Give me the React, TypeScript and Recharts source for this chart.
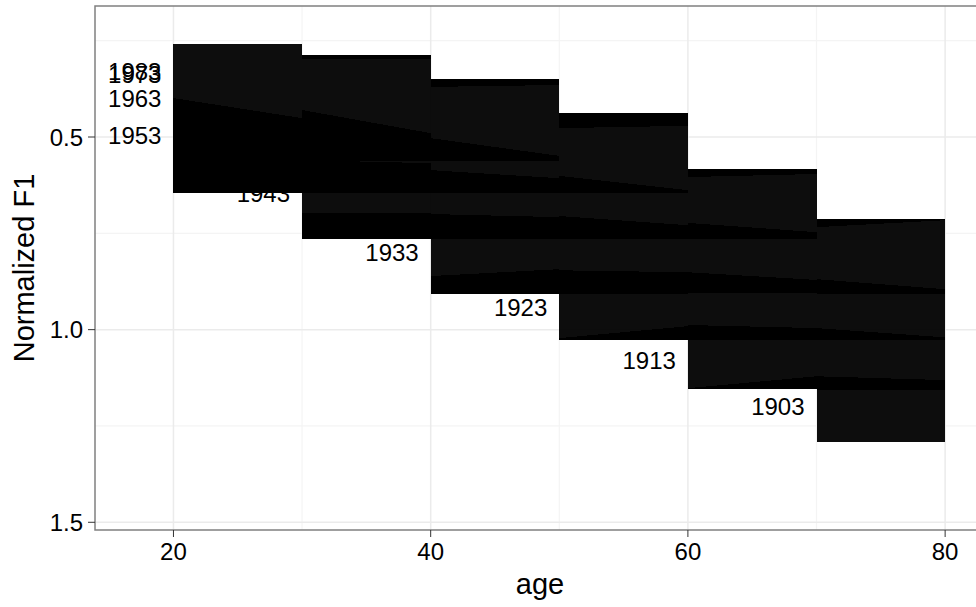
import React from 'react';
import {
  ComposedChart, Area, Scatter, XAxis, YAxis, CartesianGrid, ReferenceArea,
} from 'recharts';

const FONT = '"Liberation Sans", Arial, Helvetica, sans-serif';

// decade bins on the age axis
const decades = [20, 30, 40, 50, 60, 70];

// cohort label positions (birth year, first age, F1 at that age)
const labelYears = [1983, 1973, 1963, 1953, 1943, 1933, 1923, 1913, 1903];
const labelAges = [20, 20, 20, 20, 30, 40, 50, 60, 70];
const labelF1 = [0.330, 0.338, 0.399, 0.497, 0.647, 0.801, 0.943, 1.079, 1.199];

// ribbons per cohort: [decade start, upper@start, upper@end, lower@start, lower@end]
const band1983 = [[30, 0.287, 0.287, 0.297, 0.297]];
const band1973 = [[30, 0.287, 0.287, 0.562, 0.562], [40, 0.349, 0.349, 0.370, 0.365]];
const band1963 = [
  [20, 0.258, 0.258, 0.646, 0.646], [30, 0.430, 0.490, 0.646, 0.646],
  [40, 0.349, 0.349, 0.562, 0.562], [50, 0.438, 0.438, 0.477, 0.471],
];
const band1953 = [
  [20, 0.399, 0.451, 0.646, 0.646], [30, 0.560, 0.568, 0.646, 0.646],
  [40, 0.503, 0.549, 0.646, 0.646], [50, 0.438, 0.438, 0.646, 0.646],
  [60, 0.583, 0.583, 0.604, 0.596],
];
const band1943 = [
  [30, 0.644, 0.644, 0.765, 0.765], [40, 0.586, 0.607, 0.765, 0.765],
  [50, 0.601, 0.638, 0.765, 0.765], [60, 0.583, 0.583, 0.765, 0.765],
  [70, 0.713, 0.713, 0.734, 0.716],
];
const band1933 = [
  [30, 0.697, 0.697, 0.765, 0.765], [40, 0.700, 0.708, 0.908, 0.908],
  [50, 0.705, 0.729, 0.908, 0.908], [60, 0.723, 0.747, 0.905, 0.905],
  [70, 0.713, 0.713, 0.908, 0.908],
];
const band1923 = [
  [40, 0.861, 0.843, 0.908, 0.908], [50, 0.846, 0.851, 1.027, 1.027],
  [60, 0.851, 0.871, 1.027, 1.027], [70, 0.869, 0.895, 1.027, 1.027],
];
const band1913 = [
  [50, 1.022, 0.991, 1.027, 1.027], [60, 0.988, 0.996, 1.155, 1.155],
  [70, 0.996, 1.020, 1.157, 1.157],
];
const band1903 = [[60, 1.152, 1.121, 1.155, 1.155], [70, 1.121, 1.131, 1.292, 1.292]];

const bands: Record<string, number[][]> = {
  c1983: band1983, c1973: band1973, c1963: band1963, c1953: band1953,
  c1943: band1943, c1933: band1933, c1923: band1923, c1913: band1913, c1903: band1903,
};

// one row at the start and one at the end of each decade, so steps stay sharp
const rows: any[] = [];
decades.forEach((d) => {
  const start: any = { age: d };
  const end: any = { age: d + 10 };
  Object.keys(bands).forEach((k) => {
    const seg = bands[k].find((s) => s[0] === d);
    start[k] = seg ? [seg[3], seg[1]] : null;
    end[k] = seg ? [seg[4], seg[2]] : null;
  });
  rows.push(start, end);
});

const labelData = labelYears.map((y, i) => ({ age: labelAges[i], f1: labelF1[i], year: y }));

const CohortLabel = (p: any) => (
  <text x={p.cx - 12} y={p.cy} textAnchor="end" dominantBaseline="central"
    fontFamily={FONT} fontSize={24} fill="#000">
    {p.payload.year}
  </text>
);

const YTitle = (p: any) => {
  const vb = p.viewBox || { x: 0, y: 6, width: 95, height: 524 };
  const cx = vb.x + 24;
  const cy = vb.y + vb.height / 2;
  return (
    <text x={cx} y={cy} transform={`rotate(-90 ${cx} ${cy})`} textAnchor="middle"
      dominantBaseline="central" fontFamily={FONT} fontSize={29} fill="#000">
      Normalized F1
    </text>
  );
};

const XTitle = (p: any) => {
  const vb = p.viewBox || { x: 95, y: 530, width: 890, height: 77 };
  return (
    <text x={vb.x + vb.width / 2} y={vb.y + 64} textAnchor="middle"
      fontFamily={FONT} fontSize={29} fill="#000">
      age
    </text>
  );
};

const tickStyle = { fontFamily: FONT, fontSize: 24, fill: '#000' };

export default function App() {
  return (
    <div style={{ position: 'absolute', left: 0, top: 0, width: 976, height: 607, overflow: 'hidden', background: '#fff' }}>
      <style>{'.recharts-area-area { shape-rendering: crispEdges; }'}</style>
      <ComposedChart width={1000} height={607} data={rows}
        margin={{ top: 6, right: 15, bottom: 0, left: 0 }}>
        <CartesianGrid stroke="#f4f4f4" strokeWidth={1.2}
          horizontalValues={[0.25, 0.75, 1.25]} verticalValues={[30, 50, 70]} />
        <CartesianGrid stroke="#ebebeb" strokeWidth={1.5}
          horizontalValues={[0.5, 1, 1.5]} verticalValues={[20, 40, 60, 80]} />
        <XAxis dataKey="age" type="number" domain={[13.9, 83.1]} allowDataOverflow
          ticks={[20, 40, 60, 80]} height={77} axisLine={false}
          tickLine={{ stroke: '#333' }} tickSize={7} tickMargin={6} tick={tickStyle}
          label={<XTitle />} />
        <YAxis type="number" reversed domain={[0.16, 1.52]} allowDataOverflow
          ticks={[0.5, 1, 1.5]} width={95} axisLine={false}
          tickFormatter={(v: number) => v.toFixed(1)}
          tickLine={{ stroke: '#333' }} tickSize={7} tickMargin={5} tick={tickStyle}
          label={<YTitle />} />
        <Scatter data={labelData} dataKey="f1" shape={<CohortLabel />} isAnimationActive={false} />
        {Object.keys(bands).map((k) => (
          <Area key={k} dataKey={k} type="linear" stroke="none" fill="#000"
            fillOpacity={0.95} dot={false} activeDot={false} isAnimationActive={false} />
        ))}
        <ReferenceArea x1={13.9} x2={83.1} y1={0.16} y2={1.52} fill="none"
          fillOpacity={0} stroke="#808080" strokeWidth={1.5} />
      </ComposedChart>
    </div>
  );
}
